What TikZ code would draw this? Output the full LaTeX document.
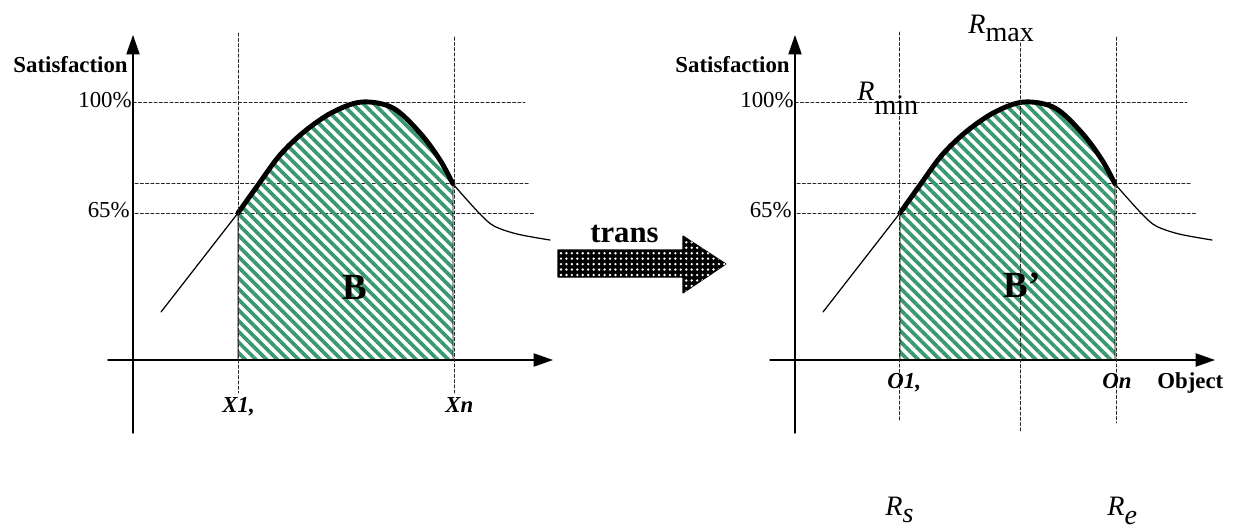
\documentclass[tikz,border=0pt]{standalone}
\usepackage{fontspec}
\setmainfont{Liberation Serif}
\usetikzlibrary{arrows.meta,patterns.meta}
\definecolor{stripegreen}{RGB}{56,152,112}
\newcommand\rlab[2]{{\itshape R}\raisebox{-#2}{#1}}
\tikzset{
  guide/.style={line width=0.45pt,black!85,dash pattern=on 1.8pt off 1.2pt},
  axis/.style={line width=0.8pt,-{Triangle[length=11pt,width=7.5pt]}},
  hatched/.style={pattern={Lines[angle=-45,distance=4.3pt,line width=2.1pt]},pattern color=stripegreen},
  lbl/.style={font=\fontsize{13}{15}\selectfont,inner sep=0pt},
  lblb/.style={lbl,font=\fontsize{13}{15}\selectfont\bfseries},
  lblbi/.style={lbl,font=\fontsize{13}{15}\selectfont\bfseries\itshape},
  rlbl/.style={font=\fontsize{16}{18}\selectfont,inner sep=0pt,anchor=base west},
  area/.style={font=\fontsize{21}{24}\selectfont\bfseries,inner sep=0pt}
}
\begin{document}
\begin{tikzpicture}[x=0.02cm,y=-0.02cm,line join=round,line cap=round]
  \useasboundingbox (0,0) rectangle (1238,531);
  % both charts share grid, area and curve
  \foreach \sx/\tag in {0/L,662/R}{
    \begin{scope}[shift={(\sx,0)}]
      \draw[guide] (133,102) -- (525,102);
      \draw[guide] (135,183) -- (530,183);
      \draw[guide] (135,213) -- (535,213);
      \draw[hatched,draw=black,line width=0.5pt] (238,360) -- plot[smooth,tension=0.55] coordinates {(238,213) (258,186) (280,156) (305,132) (333,113) (362,103) (393,109) (420,134) (440,161) (453,184)} -- (453,360) -- cycle;
      \draw[line width=0.7pt] (161,312) -- (238,213);
      \draw[line width=0.7pt] plot[smooth,tension=0.55] coordinates {(453,184) (468,201) (481,215) (494,226) (517,234) (550,240)};
      \draw[line width=2.8pt] plot[smooth,tension=0.55] coordinates {(238,213) (258,185) (280,155) (305,131) (333,112) (362,102) (393,108) (420,133) (440,160) (453,184)};
      \draw[axis] (133,433) -- (133,35);
      \draw[axis] (108,360) -- (553,360);
      \node[lblb,anchor=base east] (sat\tag) at (128,72) {Satisfaction};
      \node[lbl,anchor=base east] (full\tag) at (132,107) {100\%};
      \node[lbl,anchor=base east] (part\tag) at (130,217) {65\%};
    \end{scope}
  }
  % left chart
  \draw[guide] (238,33) -- (238,393);
  \draw[guide] (454,37) -- (454,393);
  \node[area] (areaB) at (355,287) {B};
  \node[lblbi,anchor=base west] (xone) at (222,412) {X1,};
  \node[lblbi,anchor=base west] (xlast) at (445,412) {Xn};
  % transform arrow
  \draw[line width=0.6pt,fill=black,postaction={pattern={Dots[radius=0.75pt,distance=3.1pt]},pattern color=white}]
    (558,250) -- (683,250) -- (683,236) -- (726,264) -- (683,293) -- (683,277) -- (558,277) -- cycle;
  \node[lblb,font=\fontsize{17.5}{20}\selectfont\bfseries,anchor=base west] (trans) at (590,242) {trans};
  % right chart
  \draw[guide] (899,32) -- (899,422);
  \draw[guide] (1020,43) -- (1020,432);
  \draw[guide] (1116,37) -- (1116,423);
  \node[area] (areaBp) at (1022,285) {B’};
  \node[lblbi,anchor=base west] (oone) at (887,388) {O1,};
  \node[lblbi,anchor=base west] (olast) at (1102,388) {On};
  \node[lblb,anchor=base west] (obj) at (1157,388) {Object};
  \node[rlbl] (rmax) at (968,33) {\rlab{max}{5pt}};
  \node[rlbl] (rmin) at (857,100) {\rlab{min}{8.5pt}};
  \node[rlbl] (rs) at (885,515) {\rlab{\itshape s}{4.5pt}};
  \node[rlbl] (re) at (1107,515) {\rlab{\itshape e}{5.5pt}};
\end{tikzpicture}
\end{document}
